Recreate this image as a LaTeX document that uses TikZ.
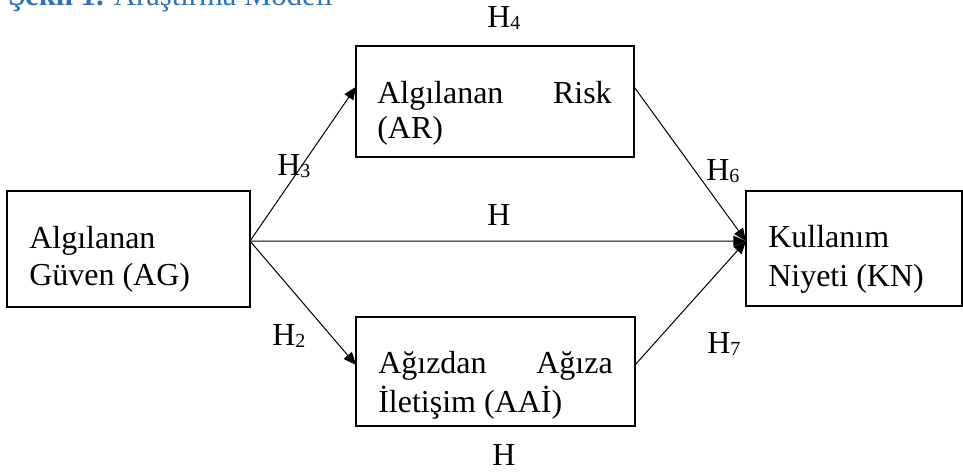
\documentclass[tikz,border=0pt]{standalone}
\usepackage{fontspec}
\setmainfont{Liberation Serif}
\usetikzlibrary{arrows.meta}
\definecolor{titleblue}{RGB}{46,116,181}
\newcommand\hsub[1]{H\raisebox{-1.5pt}{\fontsize{15}{15}\selectfont #1}}
\begin{document}
\begin{tikzpicture}[x=0.75pt,y=-0.75pt,
  box/.style={draw, line width=1.5pt, anchor=north west, inner sep=0pt, outer sep=0pt},
  txt/.style={anchor=base west, inner sep=0pt, font=\fontsize{24}{28}\selectfont},
  txtr/.style={anchor=base east, inner sep=0pt, font=\fontsize{24}{28}\selectfont},
  conn/.style={line width=0.75pt, -{Triangle[length=9.5pt,width=8pt]}},
  lbl/.style={anchor=base west, inner sep=0pt, font=\fontsize{24}{28}\selectfont}
]
\useasboundingbox (0,0) rectangle (963,472);
\clip (0,0) rectangle (963,472);

% title (cut off at the top)
\node[anchor=base west, inner sep=0pt, text=titleblue, font=\fontsize{23}{27}\selectfont] (title) at (8,5) {{\bfseries Şekil 1.} Araştırma Modeli};

% boxes
\node[box, minimum width=182.25pt, minimum height=87pt] (AG) at (7,191) {};
\node[box, minimum width=208.5pt, minimum height=83pt] (AR) at (356,46) {};
\node[box, minimum width=209.25pt, minimum height=81.75pt] (AAI) at (356,317) {};
\node[box, minimum width=162pt, minimum height=86.25pt] (KN) at (746,191) {};

% box texts
\node[txt] (ag1) at (29,248) {Algılanan};
\node[txt] (ag2) at (29,285) {Güven (AG)};
\node[txt] (ar1) at (377,103) {Algılanan};
\node[txtr] (ar2) at (612,103) {Risk};
\node[txt] (ar3) at (377,138) {(AR)};
\node[txt] (aai1) at (378,373) {Ağızdan};
\node[txtr] (aai2) at (613,373) {Ağıza};
\node[txt] (aai3) at (378,412) {İletişim (AAİ)};
\node[txt] (kn1) at (768,247) {Kullanım};
\node[txt] (kn2) at (768,286) {Niyeti (KN)};

% connectors
\draw[conn] ([yshift=6pt]AG.east) -- ([yshift=10.9pt]AR.west);
\draw[conn] ([yshift=6pt]AG.east) -- ([yshift=4.9pt]AAI.west);
\draw[conn] ([yshift=6pt]AG.east) -- ([yshift=5.6pt]KN.west);
\draw[conn] ([yshift=10.9pt]AR.east) -- ([yshift=5.6pt]KN.west);
\draw[conn] ([yshift=4.9pt]AAI.east) -- ([yshift=5.6pt]KN.west);

% labels
\node[lbl] (h4) at (487,27) {\hsub{4}};
\node[lbl] (h3) at (277,175) {\hsub{3}};
\node[lbl] (h6) at (706,180) {\hsub{6}};
\node[lbl] (h1) at (487,225) {H};
\node[lbl] (h2) at (272,345) {\hsub{2}};
\node[lbl] (h7) at (707,353) {\hsub{7}};
\node[lbl] (h5) at (492,465) {H};
\end{tikzpicture}
\end{document}
